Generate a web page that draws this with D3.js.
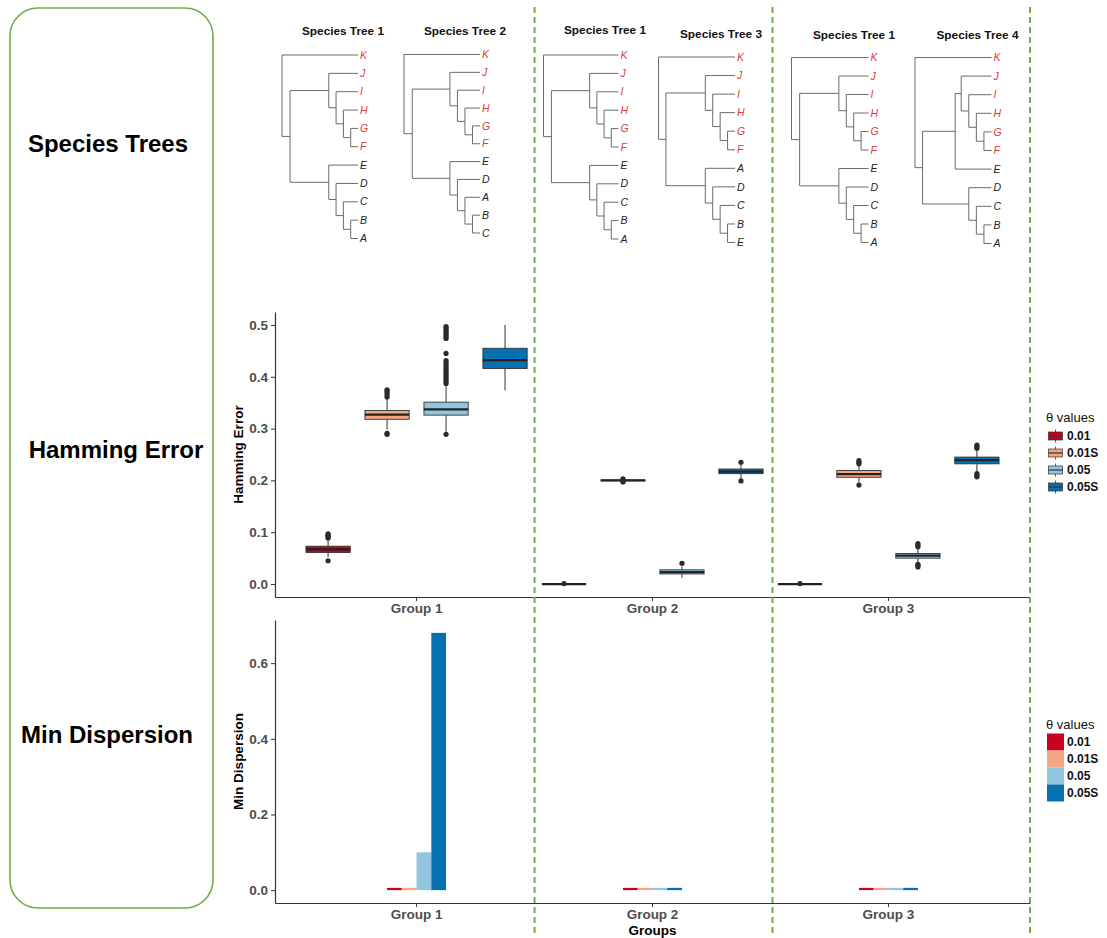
<!DOCTYPE html>
<html>
<head>
<meta charset="utf-8">
<script src="https://cdn.jsdelivr.net/npm/d3@7/dist/d3.min.js"></script>
<style>
  body { margin: 0; background: #fff; }
  svg { display: block; font-family: "Liberation Sans", Arial, sans-serif; }
</style>
</head>
<body>
<svg id="chart" width="1107" height="938"></svg>
<script>
// ── data ─────────────────────────────────────────────────────────────────
var groups      = ["Group 1", "Group 2", "Group 3"];
var thetas      = ["0.01", "0.01S", "0.05", "0.05S"];
var thetaColors = ["#ca0020", "#f4a582", "#92c5de", "#0571b0"];

// species trees as newick; internal labels are node heights
var tree1 = "(K,((J,(I,(H,(G,F)1)2)3)4,(E,(D,(C,(B,A)1)2)3)4)9.3)10.4";
var tree2 = "(K,((J,(I,(H,(G,F)1)2)3)4,(E,(D,(A,(B,C)1)2)3)4)9)10.1";
var tree3 = "(K,((J,(I,(H,(G,F)1)2)3)4,(A,(D,(C,(B,E)1)2)3)4)9.3)10.3";
var tree4 = "(K,(((J,(I,(H,(G,F)1)2)3)4,E)4.8,(D,(C,(B,A)1)2)3)9.1)10.1";
var panelTrees  = [tree1, tree2, tree1, tree3, tree1, tree4];
var panelTitles = ["Species Tree 1", "Species Tree 2", "Species Tree 1",
                   "Species Tree 3", "Species Tree 1", "Species Tree 4"];
var redTips     = ["K", "J", "I", "H", "G", "F"];

// hamming error box stats, [group][theta]
var boxLow  = [[0.052, 0.298, 0.292, 0.374], [0, 0.1985, 0.012, 0.203], [0, 0.196, 0.042, 0.218]];
var boxQ1   = [[0.061, 0.318, 0.326, 0.416], [0, 0.1993, 0.0195, 0.213], [0, 0.206, 0.050, 0.232]];
var boxMed  = [[0.067, 0.327, 0.337, 0.432], [0, 0.2000, 0.023, 0.217], [0, 0.212, 0.055, 0.239]];
var boxQ3   = [[0.073, 0.335, 0.351, 0.455], [0, 0.2007, 0.0275, 0.222], [0, 0.219, 0.059, 0.245]];
var boxHigh = [[0.085, 0.358, 0.384, 0.500], [0, 0.2015, 0.034, 0.231], [0, 0.228, 0.068, 0.258]];
var boxOut  = [
  [[0.045, 0.089, 0.091, 0.093, 0.095, 0.097],
   [0.289, 0.291, 0.361, 0.365, 0.369, 0.373, 0.375],
   [0.289, 0.387, 0.391, 0.395, 0.399, 0.403, 0.407, 0.411, 0.415, 0.419, 0.423, 0.427, 0.431,
    0.445, 0.474, 0.478, 0.482, 0.486, 0.490, 0.494, 0.497],
   []],
  [[0.001], [0.197, 0.199, 0.201, 0.203], [0.040], [0.199, 0.235]],
  [[0.001], [0.191, 0.232, 0.235, 0.238], [0.033, 0.036, 0.038, 0.072, 0.075, 0.078],
   [0.207, 0.210, 0.213, 0.262, 0.265, 0.268]]
];
var hamTicks = [0, 0.1, 0.2, 0.3, 0.4, 0.5];

// min dispersion, [group][theta]
var minDisp  = [[0.006, 0.006, 0.100, 0.680], [0.006, 0.006, 0.006, 0.006], [0.006, 0.006, 0.006, 0.006]];
var dispTicks = [0, 0.2, 0.4, 0.6];

var rowLabels = ["Species Trees", "Hamming Error", "Min Dispersion"];

// ── layout ───────────────────────────────────────────────────────────────
var svg = d3.select("#chart");
var green = "#70ad47";
var axisCol = "#333";
var tickTextCol = "#4d4d4d";

var plotL = 275, plotR = 1030;
var ham  = { top: 312, bottom: 597 };
var disp = { top: 620, bottom: 903 };

// tree placement: root x, tip x, first tip y, last tip y, title x, title y
var treeLayout = [
  [282, 358, 55, 238.5, 343, 31],
  [404, 480, 54.5, 233, 465, 31],
  [543.5, 618.5, 55, 239, 605, 30],
  [658.5, 735, 57, 242.5, 721, 33.5],
  [791.5, 868.5, 57.5, 242.5, 854, 34.5],
  [915, 991.5, 57.5, 243.5, 977.5, 34.5]
];

// ── left rounded label box ────────────────────────────────────────────────
svg.append("rect")
  .attr("x", 10).attr("y", 8).attr("width", 203).attr("height", 900)
  .attr("rx", 28).attr("fill", "none")
  .attr("stroke", green).attr("stroke-width", 1.6);

var rowLabelPos = [[108, 152], [116, 458], [107, 743]];
rowLabels.forEach(function (t, i) {
  svg.append("text")
    .attr("x", rowLabelPos[i][0]).attr("y", rowLabelPos[i][1])
    .attr("text-anchor", "middle")
    .attr("font-size", "24px").attr("font-weight", "bold").attr("fill", "#000")
    .text(t);
});

// ── scales ───────────────────────────────────────────────────────────────
var xG = d3.scaleBand().domain(groups).range([plotL, plotR])
  .paddingInner(0).paddingOuter(0.1);
var xT = d3.scaleBand().domain(thetas).range([0, xG.bandwidth()]);
var xBar = d3.scaleBand().domain(thetas)
  .range([xG.bandwidth() * 0.375, xG.bandwidth() * 0.625]);
var color = d3.scaleOrdinal().domain(thetas).range(thetaColors);

var yHam  = d3.scaleLinear().domain([-0.025, 0.525]).range([ham.bottom, ham.top]);
var yDisp = d3.scaleLinear().domain([-0.034, 0.714]).range([disp.bottom, disp.top]);

// ── species trees ────────────────────────────────────────────────────────
function parseNewick(s) {
  var i = 0;
  function node() {
    var n = {};
    if (s[i] === "(") {
      i++;
      n.children = [node()];
      while (s[i] === ",") { i++; n.children.push(node()); }
      i++;
    }
    var m = s.slice(i).match(/^[^,()]*/)[0];
    i += m.length;
    if (n.children) n.h = +m; else { n.name = m; n.h = 0; }
    return n;
  }
  return node();
}

panelTrees.forEach(function (nwk, ti) {
  var L = treeLayout[ti];
  var root = d3.hierarchy(parseNewick(nwk));
  var leaves = root.leaves().map(function (d) { return d.data.name; });
  var y = d3.scalePoint().domain(leaves).range([L[2], L[3]]);
  var x = d3.scaleLinear().domain([root.data.h, 0]).range([L[0], L[1]]);
  root.eachAfter(function (d) {
    d.py = d.children
      ? (d.children[0].py + d.children[d.children.length - 1].py) / 2
      : y(d.data.name);
    d.px = x(d.data.h);
  });

  var g = svg.append("g");
  root.descendants().forEach(function (d) {
    if (!d.children) return;
    var c0 = d.children[0], c1 = d.children[d.children.length - 1];
    g.append("line")
      .attr("x1", d.px).attr("x2", d.px).attr("y1", c0.py).attr("y2", c1.py);
    d.children.forEach(function (c) {
      g.append("line")
        .attr("x1", d.px).attr("x2", c.px).attr("y1", c.py).attr("y2", c.py);
    });
  });
  g.selectAll("line").attr("stroke", "#6b6b6b").attr("stroke-width", 1);

  root.leaves().forEach(function (d) {
    g.append("text")
      .attr("x", d.px + 2).attr("y", d.py).attr("dy", "0.35em")
      .attr("font-size", "10.5px").attr("font-style", "italic")
      .attr("fill", redTips.indexOf(d.data.name) >= 0 ? "#e0393e" : "#222")
      .text(d.data.name);
  });

  svg.append("text")
    .attr("x", L[4]).attr("y", L[5]).attr("dy", "0.35em")
    .attr("text-anchor", "middle")
    .attr("font-size", "11.8px").attr("font-weight", "bold").attr("fill", "#111")
    .text(panelTitles[ti]);
});

// ── axes helper ──────────────────────────────────────────────────────────
function styleAxis(sel) {
  sel.select(".domain").attr("stroke", axisCol).attr("stroke-width", 1.2);
  sel.selectAll(".tick line").attr("stroke", axisCol).attr("stroke-width", 1);
  sel.selectAll(".tick text")
    .attr("fill", tickTextCol).attr("font-size", "13.5px").attr("font-weight", "bold")
    .attr("font-family", "Liberation Sans, Arial, sans-serif");
}

// ── hamming error boxplots ───────────────────────────────────────────────
var hamG = svg.append("g");
groups.forEach(function (gname, gi) {
  thetas.forEach(function (t, ti) {
    var cx = xG(gname) + xT(t) + xT.bandwidth() / 2;
    var hw = xT.bandwidth() * 0.75 / 2;
    hamG.append("line")
      .attr("x1", cx).attr("x2", cx)
      .attr("y1", yHam(boxLow[gi][ti])).attr("y2", yHam(boxHigh[gi][ti]))
      .attr("stroke", axisCol).attr("stroke-width", 1);
    hamG.append("rect")
      .attr("x", cx - hw).attr("width", hw * 2)
      .attr("y", yHam(boxQ3[gi][ti]))
      .attr("height", Math.max(0, yHam(boxQ1[gi][ti]) - yHam(boxQ3[gi][ti])))
      .attr("fill", color(t)).attr("stroke", axisCol).attr("stroke-width", 0.9);
    hamG.append("line")
      .attr("x1", cx - hw).attr("x2", cx + hw)
      .attr("y1", yHam(boxMed[gi][ti])).attr("y2", yHam(boxMed[gi][ti]))
      .attr("stroke", "#222").attr("stroke-width", 2.2);
    boxOut[gi][ti].forEach(function (v) {
      hamG.append("circle")
        .attr("cx", cx).attr("cy", yHam(v)).attr("r", 2.6)
        .attr("fill", "#2b2b2b");
    });
  });
});

svg.append("g")
  .attr("transform", "translate(" + plotL + ",0)")
  .call(d3.axisLeft(yHam).tickValues(hamTicks).tickFormat(d3.format(".1f"))
    .tickSize(4).tickSizeOuter(0).tickPadding(3))
  .call(styleAxis);
svg.append("g")
  .attr("transform", "translate(0," + ham.bottom + ")")
  .call(d3.axisBottom(xG).tickSize(4).tickSizeOuter(0).tickPadding(2))
  .call(styleAxis);

svg.append("text")
  .attr("transform", "translate(243," + (ham.top + ham.bottom) / 2 + ") rotate(-90)")
  .attr("text-anchor", "middle")
  .attr("font-size", "13.5px").attr("font-weight", "bold").attr("fill", "#000")
  .text("Hamming Error");

// ── min dispersion bars ──────────────────────────────────────────────────
var dispG = svg.append("g");
groups.forEach(function (gname, gi) {
  thetas.forEach(function (t, ti) {
    var v = minDisp[gi][ti];
    dispG.append("rect")
      .attr("x", xG(gname) + xBar(t)).attr("width", xBar.bandwidth())
      .attr("y", yDisp(v)).attr("height", yDisp(0) - yDisp(v))
      .attr("fill", color(t));
  });
});

svg.append("g")
  .attr("transform", "translate(" + plotL + ",0)")
  .call(d3.axisLeft(yDisp).tickValues(dispTicks).tickFormat(d3.format(".1f"))
    .tickSize(4).tickSizeOuter(0).tickPadding(3))
  .call(styleAxis);
svg.append("g")
  .attr("transform", "translate(0," + disp.bottom + ")")
  .call(d3.axisBottom(xG).tickSize(4).tickSizeOuter(0).tickPadding(2))
  .call(styleAxis);

svg.append("text")
  .attr("transform", "translate(243," + (disp.top + disp.bottom) / 2 + ") rotate(-90)")
  .attr("text-anchor", "middle")
  .attr("font-size", "13.5px").attr("font-weight", "bold").attr("fill", "#000")
  .text("Min Dispersion");

svg.append("text")
  .attr("x", (plotL + plotR) / 2).attr("y", 935)
  .attr("text-anchor", "middle")
  .attr("font-size", "13.5px").attr("font-weight", "bold").attr("fill", "#000")
  .text("Groups");

// ── green dashed separators ──────────────────────────────────────────────
var sepX = [xG("Group 2"), xG("Group 3") + 2, plotR];
sepX.forEach(function (x) {
  svg.append("line")
    .attr("x1", x).attr("x2", x).attr("y1", 7).attr("y2", 937)
    .attr("stroke", green).attr("stroke-width", 2)
    .attr("stroke-dasharray", "6,4");
});

// ── legends ──────────────────────────────────────────────────────────────
function legend(titleY, keyY0, boxKey) {
  var lg = svg.append("g");
  lg.append("text")
    .attr("x", 1046).attr("y", titleY)
    .attr("font-size", "13px").attr("fill", "#111")
    .text("\u03b8 values");
  thetas.forEach(function (t, i) {
    var cy = keyY0 + i * 17;
    if (boxKey) {
      lg.append("line")
        .attr("x1", 1055.5).attr("x2", 1055.5).attr("y1", cy - 6.5).attr("y2", cy + 6.5)
        .attr("stroke", axisCol).attr("stroke-width", 0.8);
      lg.append("rect")
        .attr("x", 1048.5).attr("y", cy - 4).attr("width", 14).attr("height", 8)
        .attr("fill", color(t)).attr("stroke", axisCol).attr("stroke-width", 0.7);
      lg.append("line")
        .attr("x1", 1048.5).attr("x2", 1062.5).attr("y1", cy).attr("y2", cy)
        .attr("stroke", axisCol).attr("stroke-width", 1.2);
    } else {
      lg.append("rect")
        .attr("x", 1047).attr("y", cy - 8.5).attr("width", 17).attr("height", 17)
        .attr("fill", color(t));
    }
    lg.append("text")
      .attr("x", 1067).attr("y", cy).attr("dy", "0.35em")
      .attr("font-size", "12px").attr("font-weight", "bold").attr("fill", "#111")
      .text(t);
  });
}
legend(422, 436, true);
legend(729, 742, false);
</script>
</body>
</html>
